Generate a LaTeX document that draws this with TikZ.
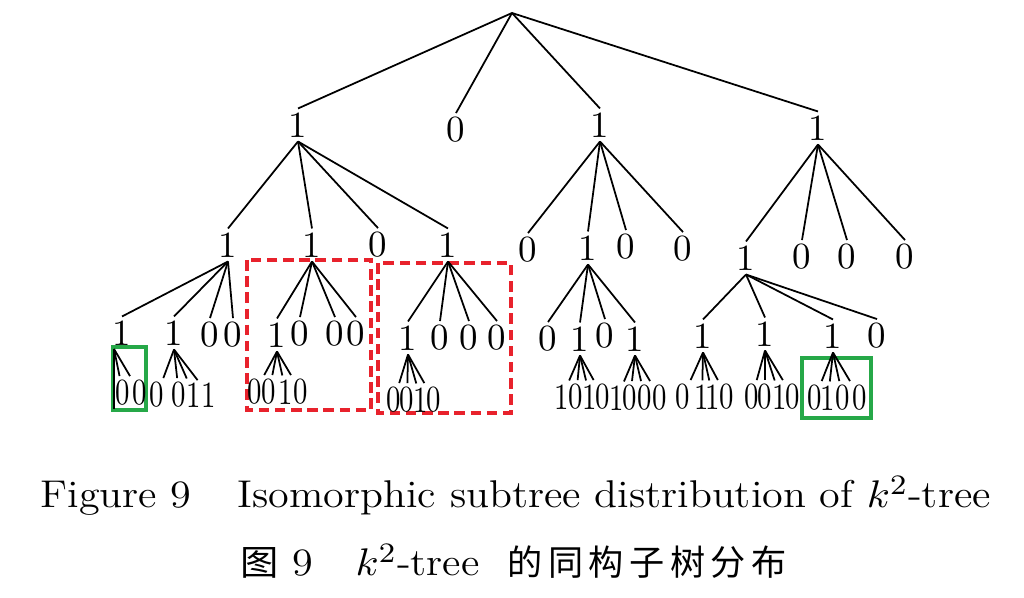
\documentclass[tikz,border=0pt]{standalone}
\usepackage{fontspec}
\usepackage{graphicx}
\newfontfamily\cjk{Noto Sans CJK SC}
\usetikzlibrary{positioning}
\definecolor{boxred}{RGB}{232,34,44}
\definecolor{boxgreen}{RGB}{38,168,72}
\newcommand{\lf}[1]{\scalebox{0.78}[1]{#1}}
\newcommand{\wide}[1]{\scalebox{1.09}[1]{#1}}

\begin{document}
\begin{tikzpicture}[x=0.01cm,y=-0.01cm]
\useasboundingbox (0,0) rectangle (1024,598);

% boxes round the isomorphic subtrees
\begin{scope}[line width=0.9pt]
    \draw[boxred, dash pattern=on 3pt off 1.6pt] (247,260) rectangle (371,410);
    \draw[boxred, dash pattern=on 3pt off 1.6pt] (378,263) rectangle (511,413);
    \draw[boxgreen] (113,347) rectangle (146,410);
    \draw[boxgreen] (802,358) rectangle (871,418);
\end{scope}

\begin{scope}[every node/.style={inner sep=1pt,font=\fontsize{10.5}{12}\selectfont}]
    \coordinate (R) at (512,13);
    % level 1
    \node (A) at (298,125) {1};
    \node (B) at (456,130) {0};
    \node (C) at (600,125) {1};
    \node (D) at (818,128) {1};
    % level 2
    \node (A1) at (228,245) {1};
    \node (A2) at (312,245) {1};
    \node (A3) at (378,245) {0};
    \node (A4) at (448,245) {1};
    \node (C1) at (528,250) {0};
    \node (C2) at (588,248) {1};
    \node (C3) at (626,247) {0};
    \node (C4) at (683,249) {0};
    \node (D1) at (746,258) {1};
    \node (D2) at (802,257) {0};
    \node (D3) at (847,257) {0};
    \node (D4) at (905,257) {0};
    % level 3
    \node (A11) at (122,333) {1};
    \node (A12) at (174,333) {1};
    \node (A13) at (210,335) {0};
    \node (A14) at (233,335) {0};
    \node (A21) at (277,335) {1};
    \node (A22) at (300,334) {0};
    \node (A23) at (335,334) {0};
    \node (A24) at (356,334) {0};
    \node (A41) at (408,338) {1};
    \node (A42) at (440,338) {0};
    \node (A43) at (469,338) {0};
    \node (A44) at (497,338) {0};
    \node (C21) at (548,339) {0};
    \node (C22) at (580,339) {1};
    \node (C23) at (605,336) {0};
    \node (C24) at (635,339) {1};
    \node (D11) at (703,336) {1};
    \node (D12) at (765,334) {1};
    \node (D13) at (833,336) {1};
    \node (D14) at (877,336) {0};
\end{scope}

\begin{scope}[every edge/.style={draw=black,line width=0.5pt}]
    \path (R) edge (A.north) edge (B.north) edge (C.north) edge (D.north);
    \path (A.south) edge (A1.north) edge (A2.north) edge (A3.north) edge (A4.north);
    \path (C.south) edge (C1.north) edge (C2.north) edge (C3.north) edge (C4.north);
    \path (D.south) edge (D1.north) edge (D2.north) edge (D3.north) edge (D4.north);
    \path (A1.south) edge (A11.north) edge (A12.north) edge (A13.north) edge (A14.north);
    \path (A2.south) edge (A21.north) edge (A22.north) edge (A23.north) edge (A24.north);
    \path (A4.south) edge (A41.north) edge (A42.north) edge (A43.north) edge (A44.north);
    \path (C2.south) edge (C21.north) edge (C22.north) edge (C23.north) edge (C24.north);
    \path (D1.south) edge (D11.north) edge (D12.north) edge (D13.north) edge (D14.north);
\end{scope}

% level 4
\tikzset{leaf/.style={inner sep=1pt,font=\fontsize{10.5}{12}\selectfont}}
\coordinate (a11) at (114,349);
\coordinate (a11e) at (114,409);
\draw[line width=0.8pt] (a11) -- (a11e);
\foreach \x/\d [count=\i] in {123/0,140/0}
    \node[leaf] (a\i) at (\x,393) {\lf{\d}} edge[line width=0.5pt] (a11);
\foreach \x/\d [count=\i] in {157/0,179/0,194/1,209/1}
    \node[leaf] (b\i) at (\x,395) {\lf{\d}} edge[line width=0.5pt] (A12.south);
\foreach \x/\d [count=\i] in {255/0,269/0,286/1,301/0}
    \node[leaf] (c\i) at (\x,392) {\lf{\d}} edge[line width=0.5pt] (A21.south);
\foreach \x/\d [count=\i] in {394/0,407/0,421/1,434/0}
    \node[leaf] (d\i) at (\x,400) {\lf{\d}} edge[line width=0.5pt] (A41.south);
\foreach \x/\d [count=\i] in {562/1,576/0,590/1,603/0}
    \node[leaf] (e\i) at (\x,397) {\lf{\d}} edge[line width=0.5pt] (C22.south);
\foreach \x/\d [count=\i] in {617/1,630/0,645/0,660/0}
    \node[leaf] (f\i) at (\x,398) {\lf{\d}} edge[line width=0.5pt] (C24.south);
\foreach \x/\d [count=\i] in {683/0,702/1,713/1,727/0}
    \node[leaf] (g\i) at (\x,397) {\lf{\d}} edge[line width=0.5pt] (D11.south);
\foreach \x/\d [count=\i] in {752/0,765/0,780/1,793/0}
    \node[leaf] (h\i) at (\x,397) {\lf{\d}} edge[line width=0.5pt] (D12.south);
\foreach \x/\d [count=\i] in {815/0,828/1,843/0,860/0}
    \node[leaf] (k\i) at (\x,398) {\lf{\d}} edge[line width=0.5pt] (D13.south);

% caption
\tikzset{captext/.style={anchor=base west,inner sep=0,font=\fontsize{11}{13}\selectfont}}
\node[captext] (capa) at (40,508) {\wide{Figure 9}};
\node[captext] (capb) at (237,508) {\wide{Isomorphic subtree distribution of $k^2$-tree}};
\node[captext] (capc) at (240,576) {\wide{{\fontsize{10}{12}\cjk 图}\ 9}};
\node[captext] (capd) at (355,576)
    {\wide{$k^2$-tree}\hspace{2.8mm}{\fontsize{10}{12}\cjk 的\hspace{0.55mm}同\hspace{0.55mm}构\hspace{0.55mm}子\hspace{0.55mm}树\hspace{0.55mm}分\hspace{0.55mm}布}};
\end{tikzpicture}
\end{document}
